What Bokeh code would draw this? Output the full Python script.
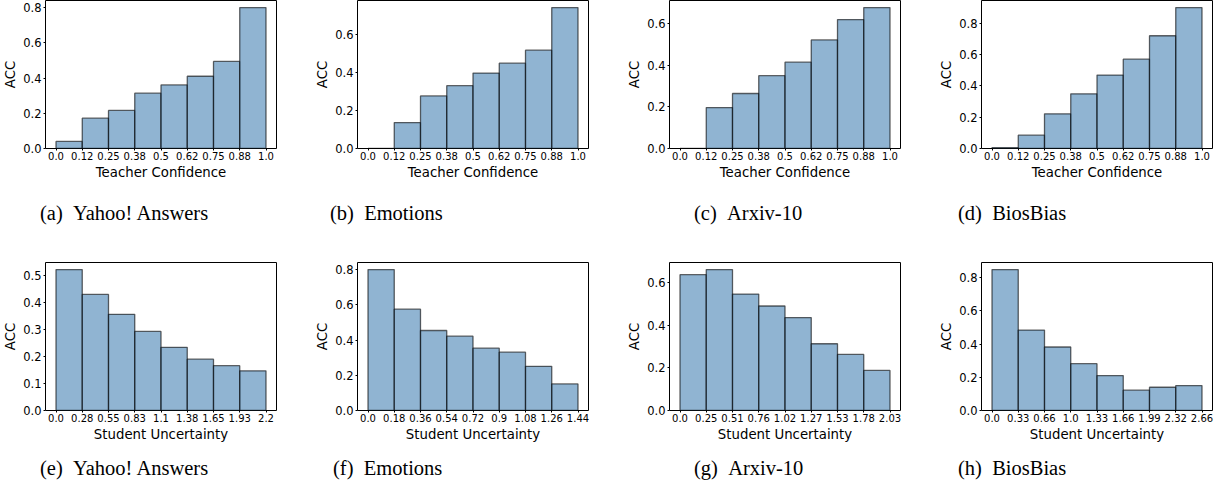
from bokeh.plotting import figure
from bokeh.models import Range1d, FixedTicker, Div
from bokeh.layouts import row, column
from bokeh.embed import file_html
from bokeh.resources import INLINE

# ---------------- data ----------------
conf_edges = [0.0, 0.125, 0.25, 0.375, 0.5, 0.625, 0.75, 0.875, 1.0]
conf_labels = ["0.0", "0.12", "0.25", "0.38", "0.5", "0.62", "0.75", "0.88", "1.0"]

acc_yahoo_conf = [0.040, 0.172, 0.216, 0.314, 0.361, 0.410, 0.494, 0.800]
acc_emotions_conf = [0.0, 0.136, 0.276, 0.330, 0.396, 0.448, 0.516, 0.740]
acc_arxiv_conf = [0.0, 0.197, 0.265, 0.351, 0.416, 0.523, 0.621, 0.679]
acc_bios_conf = [0.006, 0.085, 0.221, 0.349, 0.468, 0.570, 0.719, 0.899]

yahoo_unc_edges = [0.0, 0.275, 0.55, 0.825, 1.1, 1.375, 1.65, 1.925, 2.2]
yahoo_unc_labels = ["0.0", "0.28", "0.55", "0.83", "1.1", "1.38", "1.65", "1.93", "2.2"]
emotions_unc_edges = [0.0, 0.18, 0.36, 0.54, 0.72, 0.9, 1.08, 1.26, 1.44]
emotions_unc_labels = ["0.0", "0.18", "0.36", "0.54", "0.72", "0.9", "1.08", "1.26", "1.44"]
arxiv_unc_edges = [0.0, 0.2542, 0.5084, 0.7626, 1.0168, 1.271, 1.5252, 1.7794, 2.0336]
arxiv_unc_labels = ["0.0", "0.25", "0.51", "0.76", "1.02", "1.27", "1.53", "1.78", "2.03"]
bios_unc_edges = [0.0, 0.332, 0.664, 0.996, 1.328, 1.66, 1.992, 2.324, 2.656]
bios_unc_labels = ["0.0", "0.33", "0.66", "1.0", "1.33", "1.66", "1.99", "2.32", "2.66"]

acc_yahoo_unc = [0.522, 0.430, 0.356, 0.293, 0.234, 0.190, 0.166, 0.147]
acc_emotions_unc = [0.800, 0.575, 0.454, 0.422, 0.354, 0.331, 0.251, 0.151]
acc_arxiv_unc = [0.637, 0.661, 0.546, 0.490, 0.436, 0.313, 0.263, 0.188]
acc_bios_unc = [0.848, 0.484, 0.382, 0.282, 0.210, 0.122, 0.140, 0.150]

yticks_a = [0.0, 0.2, 0.4, 0.6, 0.8]
yticks_b = [0.0, 0.2, 0.4, 0.6]
yticks_c = [0.0, 0.2, 0.4, 0.6]
yticks_d = [0.0, 0.2, 0.4, 0.6, 0.8]
yticks_e = [0.0, 0.1, 0.2, 0.3, 0.4, 0.5]
yticks_f = [0.0, 0.2, 0.4, 0.6, 0.8]
yticks_g = [0.0, 0.2, 0.4, 0.6]
yticks_h = [0.0, 0.2, 0.4, 0.6, 0.8]

captions_top = ["(a)&ensp;Yahoo! Answers", "(b)&ensp;Emotions", "(c)&ensp;Arxiv-10", "(d)&ensp;BiosBias"]
captions_bottom = ["(e)&ensp;Yahoo! Answers", "(f)&ensp;Emotions", "(g)&ensp;Arxiv-10", "(h)&ensp;BiosBias"]
caption_left_top = [40, 18, 70, 22]
caption_left_bottom = [40, 21, 70, 22]

COL_W = 312
LAST_W = 279


def make(edges, vals, xlabels, yticks, xlabel, height, mbb, last):
    span = edges[-1] - edges[0]
    ymax = max(vals) * 1.05
    p = figure(
        width=LAST_W if last else COL_W, height=height,
        x_range=Range1d(edges[0] - 0.05 * span, edges[-1] + 0.05 * span),
        y_range=Range1d(0, ymax),
        output_backend="svg", toolbar_location=None, title_location=None,
        min_border_left=40, min_border_right=3 if last else 36,
        min_border_top=0, min_border_bottom=mbb,
    )
    p.quad(left=edges[:-1], right=edges[1:], bottom=0, top=vals,
           fill_color="steelblue", fill_alpha=0.6,
           line_color="black", line_alpha=0.6, line_width=1.3)
    p.xgrid.grid_line_color = None
    p.ygrid.grid_line_color = None
    p.outline_line_color = "black"
    p.outline_line_alpha = 1.0
    p.outline_line_width = 1
    p.background_fill_color = "white"
    p.border_fill_color = "white"

    p.xaxis.ticker = FixedTicker(ticks=edges)
    p.xaxis.major_label_overrides = {e: l for e, l in zip(edges, xlabels)}
    p.yaxis.ticker = FixedTicker(ticks=yticks)
    p.yaxis.major_label_overrides = {t: f"{t:.1f}" for t in yticks}
    for ax in (p.xaxis[0], p.yaxis[0]):
        ax.axis_line_color = None
        ax.major_tick_in = 0
        ax.major_tick_out = 2
        ax.major_tick_line_color = "black"
        ax.minor_tick_line_color = None
        ax.major_label_text_color = "black"
        ax.major_label_text_font = "DejaVu Sans"
        ax.axis_label_text_font = "DejaVu Sans"
        ax.axis_label_text_font_style = "normal"
        ax.axis_label_text_font_size = "13.3px"
        ax.axis_label_text_color = "black"
        ax.axis_label_standoff = 2
    p.xaxis.major_label_text_font_size = "10px"
    p.xaxis.major_label_standoff = 1
    p.yaxis.major_label_text_font_size = "11.5px"
    p.yaxis.major_label_standoff = 2
    p.xaxis.axis_label = xlabel
    p.yaxis.axis_label = "ACC"
    return p


def caption(text, left, width, height):
    html = (f'<div style="margin-left:{left}px;padding-top:2px;font-family:\'Liberation Serif\';'
            f'font-size:20.5px;line-height:21px;white-space:nowrap;color:#000;">{text}</div>')
    return Div(text=html, width=width, height=height, margin=0)


top_h, top_mbb = 201, 53
bot_h, bot_mbb = 194, 46

top_specs = [
    (conf_edges, acc_yahoo_conf, conf_labels, yticks_a),
    (conf_edges, acc_emotions_conf, conf_labels, yticks_b),
    (conf_edges, acc_arxiv_conf, conf_labels, yticks_c),
    (conf_edges, acc_bios_conf, conf_labels, yticks_d),
]
bot_specs = [
    (yahoo_unc_edges, acc_yahoo_unc, yahoo_unc_labels, yticks_e),
    (emotions_unc_edges, acc_emotions_unc, emotions_unc_labels, yticks_f),
    (arxiv_unc_edges, acc_arxiv_unc, arxiv_unc_labels, yticks_g),
    (bios_unc_edges, acc_bios_unc, bios_unc_labels, yticks_h),
]

top_figs = [make(e, v, l, t, "Teacher Confidence", top_h, top_mbb, i == 3)
            for i, (e, v, l, t) in enumerate(top_specs)]
bot_figs = [make(e, v, l, t, "Student Uncertainty", bot_h, bot_mbb, i == 3)
            for i, (e, v, l, t) in enumerate(bot_specs)]

top_caps = [caption(c, x, LAST_W if i == 3 else COL_W, 61)
            for i, (c, x) in enumerate(zip(captions_top, caption_left_top))]
bot_caps = [caption(c, x, LAST_W if i == 3 else COL_W, 23)
            for i, (c, x) in enumerate(zip(captions_bottom, caption_left_bottom))]

layout = column(
    row(*top_figs, spacing=0),
    row(*top_caps, spacing=0),
    row(*bot_figs, spacing=0),
    row(*bot_caps, spacing=0),
    spacing=0,
)

open("out.html", "w").write(file_html(layout, INLINE))
